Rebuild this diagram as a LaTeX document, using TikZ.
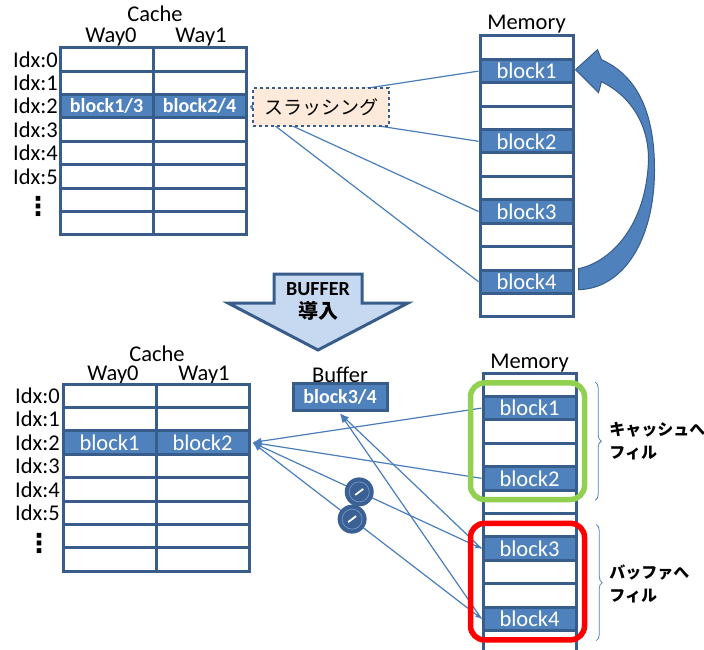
\documentclass[tikz,border=0pt]{standalone}
\usepackage{fontspec}
\setmainfont{Carlito}
\newfontfamily\jpfont{Noto Sans CJK JP}
\newfontfamily\dotsfont{DejaVu Sans}
\usetikzlibrary{arrows.meta,fit,decorations.pathreplacing}

\begin{document}
\begin{tikzpicture}[x=1pt,y=-1pt,
    cell/.style={draw=celldark,line width=3pt,fill=white,minimum width=93pt,minimum height=23.4pt,inner sep=0pt},
    blk/.style={cell,fill=blkfill,text=white,font=\fontsize{22.5}{24}\selectfont},
    blkb/.style={blk,font=\fontsize{20}{22}\selectfont\bfseries},
    idx/.style={anchor=east,inner sep=0pt,font=\fontsize{22.5}{24}\selectfont},
    lbl/.style={anchor=base,inner sep=0pt,font=\fontsize{22.5}{24}\selectfont},
    vdot/.style={inner sep=0pt,font=\fontsize{26}{26}\selectfont\dotsfont\bfseries},
    link/.style={draw=linkblue,line width=1.2pt},
    tip/.style={-{Latex[length=9pt,width=7pt]}},
    dtip/.style={{Latex[length=9pt,width=7pt]}-{Latex[length=6pt,width=5pt]}},
    nosign/.style={circle,fill=nodark,minimum size=29pt,inner sep=0pt,
      path picture={\draw[-,ringc,line width=0.8pt] (path picture bounding box.center) circle (10pt);
        \draw[-,white,line width=1.8pt] ([shift={(-4,3)}]path picture bounding box.center) -- ([shift={(4,-3)}]path picture bounding box.center);}},
    fillframe/.style={draw=#1,line width=5.5pt,rounded corners=14pt,inner xsep=9pt,inner ysep=10pt,xshift=-2pt,yshift=2pt},
    brace/.style={decorate,decoration={brace,amplitude=6pt},draw=blkfill,line width=0.8pt},
    filllbl/.style={anchor=west,align=left,inner sep=0pt,font=\fontsize{16}{23}\selectfont\jpfont\bfseries}]
    %colores
    \definecolor{celldark}{RGB}{56,93,138}
    \definecolor{blkfill}{RGB}{79,129,189}
    \definecolor{linkblue}{RGB}{74,126,187}
    \definecolor{peach}{RGB}{253,234,218}
    \definecolor{lightblue}{RGB}{198,217,240}
    \definecolor{framegreen}{RGB}{146,208,80}
    \definecolor{nodark}{RGB}{58,96,148}
    \definecolor{ringc}{RGB}{110,145,195}

    \useasboundingbox (0,0) rectangle (704,650);

    % cache arriba
    \node[lbl] (cachet) at (155,22) {Cache};
    \node[lbl] (way0t) at (111,42.5) {Way0};
    \node[lbl] (way1t) at (201,42.5) {Way1};
    \foreach \r in {0,...,7}{
        \node[cell] (ct-\r-0) at (106.5,59.4+23.4*\r) {};
        \node[cell] (ct-\r-1) at (199.5,59.4+23.4*\r) {};
    }
    \node[blkb] (ct-2-0) at (106.5,106.2) {block1/3};
    \node[blkb] (ct-2-1) at (199.5,106.2) {block2/4};
    \foreach \r in {0,...,5}
        \node[idx] (it-\r) at (58,59.4+23.4*\r) {Idx:\r};
    \node[vdot] (dt) at (38,206) {⋮};

    % memoria arriba
    \node[lbl] (memt) at (526.5,30) {Memory};
    \foreach \r in {0,...,11}
        \node[cell] (mt-\r) at (526.5,47.7+23.4*\r) {};
    \foreach \r/\t in {1/block1,4/block2,7/block3,10/block4}
        \node[blk] (mt-\r) at (526.5,47.7+23.4*\r) {\t};

    % lineas y thrashing
    \coordinate (tin) at ([xshift=2pt]ct-2-1.east);
    \foreach \r in {1,4,7,10}
        \draw[link,tip] (mt-\r.west) -- (tin);
    \node[draw=celldark,dashed,line width=1.2pt,fill=peach,minimum width=136pt,minimum height=38pt,
        font=\fontsize{19}{21}\selectfont\jpfont] (thr) at (321,107) {スラッシング};

    % flecha curva block4 -> block1
    \begin{scope}[shift={(mt-10.east)}]
        \fill[blkfill,draw=celldark,line width=1pt] (4,-13) .. controls (37,-20) and (72,-57) .. (74,-122)
            .. controls (74,-157) and (57,-185) .. (27,-200) -- (24,-189) -- (1,-212) -- (23,-232) -- (27,-222)
            .. controls (67,-204) and (80,-162) .. (80,-112)
            .. controls (80,-42) and (49,7) .. (4,8) -- cycle;
    \end{scope}

    % flecha BUFFER
    \draw[fill=lightblue,draw=celldark,line width=3pt,line join=miter]
        (274,274) -- (362,274) -- (362,303) -- (408,303) -- (318,350) -- (228,303) -- (274,303) -- cycle;
    \node[align=center,inner sep=0pt,font=\fontsize{20}{23}\selectfont\bfseries] (intro) at (318,301) {BUFFER\\{\jpfont 導入}};

    % cache abajo
    \node[lbl] (cacheb) at (157,361) {Cache};
    \node[lbl] (way0b) at (113,380) {Way0};
    \node[lbl] (way1b) at (204,380) {Way1};
    \foreach \r in {0,...,7}{
        \node[cell] (cb-\r-0) at (109.5,395.7+23.4*\r) {};
        \node[cell] (cb-\r-1) at (202.5,395.7+23.4*\r) {};
    }
    \node[blk] (cb-2-0) at (109.5,442.5) {block1};
    \node[blk] (cb-2-1) at (202.5,442.5) {block2};
    \foreach \r in {0,...,5}
        \node[idx] (ib-\r) at (60,395.7+23.4*\r) {Idx:\r};
    \node[vdot] (db) at (39,543) {⋮};

    % buffer
    \node[lbl] (buflbl) at (340,382) {Buffer};
    \node[blkb,minimum width=94pt,minimum height=27pt] (buf) at (340,396.5) {block3/4};

    % memoria abajo
    \node[lbl] (memb) at (529.5,368) {Memory};
    \foreach \r in {0,...,11}
        \node[cell] (mb-\r) at (529.5,384.7+23.4*\r) {};
    \foreach \r/\t in {1/block1,4/block2,7/block3,10/block4}
        \node[blk] (mb-\r) at (529.5,384.7+23.4*\r) {\t};

    % lineas abajo
    \coordinate (bin) at ([xshift=2pt]cb-2-1.east);
    \draw[link,tip] (mb-1.west) -- (bin);
    \draw[link,tip] (mb-4.west) -- (bin);
    \draw[link,tip] (mb-7.west) -- ([yshift=-2pt]buf.south);
    \draw[link,tip] (mb-10.west) -- ([yshift=-2pt]buf.south);
    \draw[link,dtip] (bin) -- node[nosign,pos=0.466] (no1) {} (mb-7.west);
    \draw[link,dtip] (bin) -- node[nosign,pos=0.435] (no2) {} (mb-10.west);

    % marcos y llaves
    \node[fillframe=framegreen,fit=(mb-1)(mb-4)] (cfill) {};
    \node[fillframe=red,fit=(mb-7)(mb-10)] (bfill) {};
    \draw[brace] ([xshift=8pt,yshift=-2pt]cfill.north east) -- ([xshift=8pt,yshift=2pt]cfill.south east);
    \draw[brace] ([xshift=9pt,yshift=-4pt]bfill.north east) -- ([xshift=9pt,yshift=2pt]bfill.south east);
    \node[filllbl] (clbl) at ([xshift=22pt]cfill.east) {キャッシュへ\\フィル};
    \node[filllbl] (blbl) at ([xshift=22pt,yshift=-2pt]bfill.east) {バッファへ\\フィル};
\end{tikzpicture}
\end{document}
